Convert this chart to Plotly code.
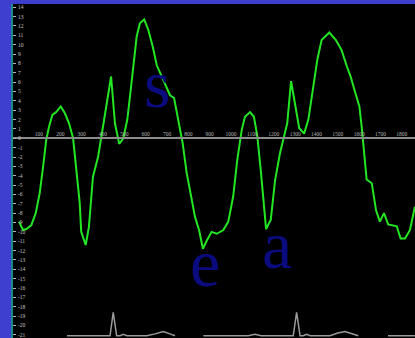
import plotly.graph_objects as go

# Tissue velocity trace (time in ms, velocity in cm/s)
time_ms = [7, 25, 41, 64, 85, 104, 119, 134, 147, 163, 181, 202, 221, 241, 260, 275, 291, 298,
           319, 334, 353, 377, 400, 419, 438, 456, 476, 495, 514, 530, 542, 558, 573, 593, 612,
           633, 652, 670, 690, 714, 733, 753, 773, 792, 811, 831, 850, 868, 887, 909, 933, 964,
           987, 1010, 1029, 1050, 1065, 1089, 1107, 1123, 1139, 1154, 1164, 1186, 1206, 1229,
           1253, 1263, 1281, 1299, 1319, 1342, 1362, 1385, 1404, 1424, 1460, 1491, 1518, 1542,
           1560, 1580, 1601, 1612, 1623, 1635, 1659, 1679, 1697, 1716, 1736, 1776, 1794, 1815,
           1838, 1861]
velocity = [-8.9, -9.8, -9.7, -9.3, -8.0, -5.8, -3.1, -0.2, 1.2, 2.5, 2.8, 3.4, 2.7, 1.6, 0.0,
            -3.4, -6.9, -10.0, -11.4, -9.5, -4.1, -2.0, 1.2, 4.1, 6.6, 1.6, -0.6, 0.0, 2.0, 5.2,
            7.7, 10.9, 12.3, 12.7, 11.6, 9.8, 7.8, 6.9, 5.9, 4.6, 4.3, 2.0, -0.5, -3.7, -6.2,
            -8.4, -9.8, -11.8, -10.9, -10.0, -10.2, -9.8, -8.9, -6.2, -2.3, 0.9, 2.3, 2.8, 2.3,
            0.2, -3.4, -6.9, -9.7, -8.7, -4.5, -1.6, 0.5, 1.6, 6.1, 3.7, 1.1, 0.5, 2.0, 5.5, 8.4,
            10.5, 11.3, 10.5, 9.4, 7.7, 6.6, 5.0, 3.4, 1.2, -1.6, -4.4, -4.8, -7.7, -8.9, -8.0,
            -9.2, -9.4, -10.7, -10.7, -9.8, -7.3]

# ECG reference trace along the bottom (None = gap)
ecg_ms = [231, 400, 433, 448, 464, 480, 495, 512, 605, 644, 682, 714, 737, None,
          870, 1080, 1112, 1140, 1291, 1307, 1323, 1338, 1354, 1370, 1463, 1500, 1534, 1570, 1596, None,
          1735, 1861]
ecg_val = [-21.1, -21.1, -21.1, -18.6, -21.1, -21.1, -20.95, -21.1, -21.1, -20.9, -20.65, -20.9, -21.1, None,
           -21.1, -21.1, -20.95, -21.1, -21.1, -18.6, -21.1, -21.1, -20.95, -21.1, -21.1, -20.8, -20.65, -20.9, -21.1, None,
           -21.1, -21.1]

# Wave labels
wave_names = ["s", "e", "a"]
wave_ms = [653, 878, 1215]
wave_vel = [5.05, -14.07, -12.1]

x_ticks = list(range(100, 1900, 100))
y_ticks = list(range(-21, 15))

fig = go.Figure()
fig.add_trace(go.Scatter(x=ecg_ms, y=ecg_val, mode="lines",
                         line=dict(color="#9a9a9a", width=1.5), connectgaps=False,
                         hoverinfo="skip"))
fig.add_trace(go.Scatter(x=time_ms, y=velocity, mode="lines",
                         line=dict(color="#22e622", width=2)))

for name, xv, yv in zip(wave_names, wave_ms, wave_vel):
    fig.add_annotation(x=xv, y=yv, text=name, showarrow=False, yshift=7,
                       font=dict(family="Liberation Serif", size=68, color="#0b0b80"))

y_min, y_max = -21.34, 14.35
fig.update_layout(
    width=415, height=338,
    margin=dict(l=13, r=0, t=4, b=0),
    paper_bgcolor="#3f3fcf",
    plot_bgcolor="#000000",
    showlegend=False,
    xaxis=dict(range=[-21.5, 1861.5], showgrid=False, zeroline=False,
               tickvals=x_ticks, ticktext=[str(v) for v in x_ticks],
               side="top", anchor="free", position=(0 - y_min) / (y_max - y_min),
               showline=True, linecolor="#8c8c8c", linewidth=2,
               ticks="", tickfont=dict(size=5.5, color="#b4b4b4", family="Liberation Sans Narrow"),
               ticklabelstandoff=-1),
    yaxis=dict(range=[y_min, y_max], showgrid=False, zeroline=False,
               tickvals=y_ticks, ticktext=[str(v) for v in y_ticks],
               showline=True, linecolor="#1a8a8a", linewidth=2,
               ticks="inside", ticklen=3, tickcolor="#b4b4b4",
               ticklabelposition="inside", ticklabeloverflow="allow",
               tickfont=dict(size=5.5, color="#c4c4c4", family="Liberation Sans Narrow")),
)

fig.write_html("out.html")
